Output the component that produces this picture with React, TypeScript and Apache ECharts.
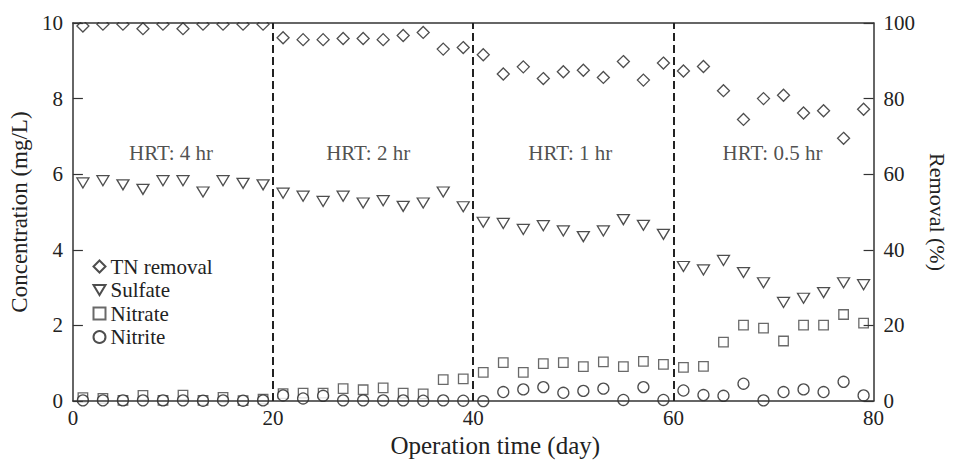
import React, { useEffect, useRef } from "react";
import * as echarts from "echarts";

const days = [
  1, 3, 5, 7, 9, 11, 13, 15, 17, 19,
  21, 23, 25, 27, 29, 31, 33, 35, 37, 39,
  41, 43, 45, 47, 49, 51, 53, 55, 57, 59,
  61, 63, 65, 67, 69, 71, 73, 75, 77, 79,
];

const tnRemoval = [
  99.2, 99.7, 99.7, 98.5, 99.7, 98.5, 99.7, 99.7, 99.7, 99.7,
  96.1, 95.6, 95.6, 95.9, 95.9, 95.6, 96.7, 97.5, 93.1, 93.5,
  91.6, 86.5, 88.4, 85.3, 87.1, 87.5, 85.6, 89.8, 84.9, 89.4,
  87.3, 88.5, 82.1, 74.5, 80.0, 80.9, 76.2, 76.8, 69.5, 77.2,
];

const sulfate = [
  5.77, 5.83, 5.72, 5.6, 5.83, 5.83, 5.53, 5.83, 5.76, 5.72,
  5.5, 5.42, 5.28, 5.42, 5.24, 5.3, 5.15, 5.24, 5.53, 5.14,
  4.73, 4.7, 4.54, 4.64, 4.5, 4.35, 4.5, 4.8, 4.65, 4.41,
  3.56, 3.47, 3.72, 3.4, 3.13, 2.61, 2.72, 2.87, 3.13, 3.08,
];

const nitrate = [
  0.09, 0.07, 0.02, 0.15, 0.02, 0.16, 0.02, 0.1, 0.01, 0.05,
  0.2, 0.21, 0.21, 0.33, 0.3, 0.35, 0.21, 0.19, 0.57, 0.59,
  0.76, 1.02, 0.76, 0.99, 1.02, 0.91, 1.04, 0.91, 1.05, 0.97,
  0.89, 0.92, 1.56, 2.01, 1.93, 1.59, 2.01, 2.01, 2.29, 2.06,
];

const nitrite = [
  0.02, 0.02, 0.02, 0.02, 0.02, 0.02, 0.01, 0.02, 0.01, 0.02,
  0.15, 0.07, 0.14, 0.02, 0.02, 0.02, 0.02, 0.01, 0.02, 0.01,
  0.0, 0.24, 0.31, 0.37, 0.22, 0.27, 0.33, 0.03, 0.37, 0.03,
  0.28, 0.16, 0.14, 0.46, 0.02, 0.24, 0.31, 0.24, 0.51, 0.15,
];

const periodBoundaries = [20, 40, 60];
const hrtLabels = ["HRT: 4 hr", "HRT: 2 hr", "HRT: 1 hr", "HRT: 0.5 hr"];
const hrtLabelDays = [9.8, 29.5, 49.7, 69.9];
const hrtLabelLevel = 6.55;

const xTicks = [0, 20, 40, 60, 80];
const leftTicks = [0, 2, 4, 6, 8, 10];
const rightTicks = [0, 20, 40, 60, 80, 100];

const FONT = '"Liberation Serif", "Times New Roman", serif';
const INK = "#222";
const AXIS = "#333";
const DOWN_TRIANGLE = "path://M0,0 L12,0 L6,10 Z";

export default function App() {
  const ref = useRef<HTMLDivElement>(null);

  useEffect(() => {
    if (!ref.current) return;
    const chart = echarts.init(ref.current, undefined, { renderer: "svg" });

    const pair = (ys: number[]) => days.map((d, i) => [d, ys[i]]);
    const markerStyle = (c: string) => ({
      color: "#fff",
      borderColor: c,
      borderWidth: 1.3,
    });

    const option: any = {
      animation: false,
      textStyle: { fontFamily: FONT, color: INK },
      grid: {
        left: 72,
        right: 64,
        top: 23,
        bottom: 50.5,
        containLabel: false,
      },
      legend: {
        data: [
          { name: "TN removal" },
          { name: "Sulfate", icon: DOWN_TRIANGLE },
          { name: "Nitrate" },
          { name: "Nitrite" },
        ],
        orient: "vertical",
        left: 92.5,
        top: 255.5,
        itemWidth: 12,
        itemHeight: 12,
        itemGap: 1.5,
        padding: 0,
        textStyle: {
          fontFamily: FONT,
          fontSize: 21,
          color: INK,
          lineHeight: 22,
        },
      },
      xAxis: [
        {
          type: "value",
          min: xTicks[0],
          max: xTicks[xTicks.length - 1],
          interval: 20,
          z: 3,
          name: "Operation time (day)",
          nameLocation: "middle",
          nameGap: 27,
          nameTextStyle: {
            fontFamily: FONT,
            fontSize: 25,
            color: INK,
            padding: [0, 0, 0, 44],
          },
          axisLine: { show: true, onZero: false, lineStyle: { color: AXIS, width: 1.5 } },
          axisTick: { show: false },
          axisLabel: { fontFamily: FONT, fontSize: 21, color: INK, margin: 6 },
          splitLine: { show: false },
        },
        {
          type: "value",
          position: "top",
          min: xTicks[0],
          max: xTicks[xTicks.length - 1],
          interval: 20,
          z: 3,
          axisLine: { show: true, onZero: false, lineStyle: { color: AXIS, width: 1.5 } },
          axisTick: { show: false },
          axisLabel: { show: false },
          splitLine: { show: false },
        },
      ],
      yAxis: [
        {
          type: "value",
          min: leftTicks[0],
          max: leftTicks[leftTicks.length - 1],
          interval: 2,
          z: 3,
          name: "Concentration (mg/L)",
          nameLocation: "middle",
          nameGap: 41,
          nameTextStyle: { fontFamily: FONT, fontSize: 23, color: INK },
          axisLine: { show: true, onZero: false, lineStyle: { color: AXIS, width: 1.5 } },
          axisTick: { show: true, inside: true, length: 10, lineStyle: { color: AXIS, width: 1.2 } },
          axisLabel: { fontFamily: FONT, fontSize: 21, color: INK, margin: 10 },
          splitLine: { show: false },
        },
        {
          type: "value",
          position: "right",
          min: rightTicks[0],
          max: rightTicks[rightTicks.length - 1],
          interval: 20,
          z: 3,
          name: "Removal (%)",
          nameLocation: "middle",
          nameGap: 41,
          nameRotate: -90,
          nameTextStyle: { fontFamily: FONT, fontSize: 22, color: INK },
          axisLine: { show: true, onZero: false, lineStyle: { color: AXIS, width: 1.5 } },
          axisTick: { show: true, inside: true, length: 10, lineStyle: { color: AXIS, width: 1.2 } },
          axisLabel: { fontFamily: FONT, fontSize: 21, color: INK, margin: 10 },
          splitLine: { show: false },
        },
      ],
      graphic: [
        {
          type: "rect",
          z: 2.5,
          silent: true,
          shape: { x: 73, y: 0, width: 818, height: 22.1 },
          style: { fill: "#fff" },
        },
        {
          type: "rect",
          z: 2.5,
          silent: true,
          shape: { x: 73, y: 413.4, width: 818, height: 5 },
          style: { fill: "#fff" },
        },
      ],
      series: [
        {
          name: "TN removal",
          type: "scatter",
          yAxisIndex: 1,
          symbol: "diamond",
          symbolSize: [12, 12],
          itemStyle: markerStyle(INK),
          data: pair(tnRemoval),
          z: 2,
        },
        {
          name: "Sulfate",
          type: "scatter",
          symbol: "triangle",
          symbolRotate: 180,
          symbolSize: [12, 10],
          itemStyle: markerStyle(INK),
          data: pair(sulfate),
          z: 2,
          markLine: {
            silent: true,
            symbol: ["none", "none"],
            label: { show: false },
            lineStyle: { type: [8, 4], color: INK, width: 2 },
            data: periodBoundaries.map((x) => ({ xAxis: x })),
          },
        },
        {
          name: "Nitrate",
          type: "scatter",
          symbol: "rect",
          symbolSize: 9.5,
          itemStyle: markerStyle("#444"),
          data: pair(nitrate),
          z: 2,
        },
        {
          name: "Nitrite",
          type: "scatter",
          symbol: "circle",
          symbolSize: 11,
          itemStyle: markerStyle(INK),
          data: pair(nitrite),
          z: 2,
        },
        {
          name: "HRT",
          type: "scatter",
          symbolSize: 0,
          silent: true,
          data: hrtLabelDays.map((d, i) => ({ value: [d, hrtLabelLevel], name: hrtLabels[i] })),
          label: {
            show: true,
            position: "inside",
            formatter: (p: any) => p.name,
            fontFamily: FONT,
            fontSize: 21,
            color: INK,
          },
          z: 1,
        },
      ],
    };

    chart.setOption(option);
    return () => chart.dispose();
  }, []);

  return (
    <div
      ref={ref}
      style={{
        position: "fixed",
        left: 0,
        top: 0,
        width: 956,
        height: 463,
        overflow: "hidden",
        background: "#fff",
      }}
    />
  );
}
